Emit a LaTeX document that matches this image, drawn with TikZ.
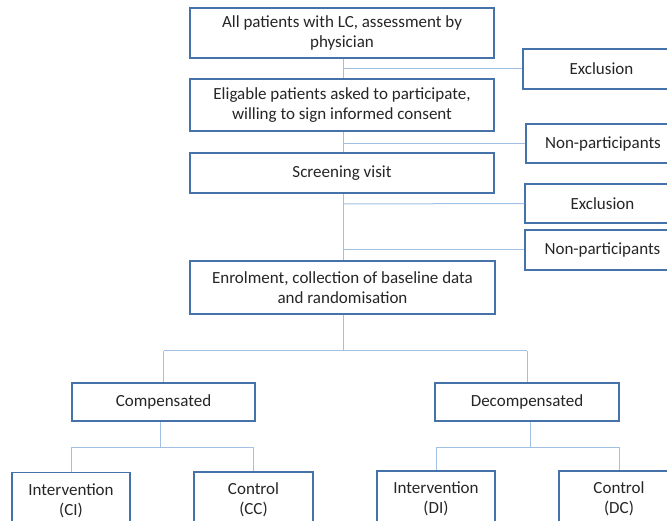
\documentclass[tikz,border=0pt]{standalone}
\usepackage{fontspec}
\setmainfont{Carlito}
\definecolor{boxc}{RGB}{70,114,170}
\definecolor{linec}{RGB}{160,192,228}
\begin{document}
\begin{tikzpicture}[x=1pt,y=-1pt,
  box/.style={draw=boxc,line width=1.1pt,fill=white,inner sep=0pt,align=center,font=\fontsize{17}{20}\selectfont,text=black!85},
  conn/.style={draw=linec,line width=1pt}]
\useasboundingbox (0,0) rectangle (667,521);
\clip (0,0) rectangle (667,521);
% main column
\node[box,minimum width=304pt,minimum height=50pt] (b1) at (342,33) {All patients with LC, assessment by\\physician};
\node[box,minimum width=304pt,minimum height=52pt] (b2) at (342,105) {Eligable patients asked to participate,\\willing to sign informed consent};
\node[box,minimum width=304pt,minimum height=40pt] (b3) at (342,173) {Screening visit};
\node[box,minimum width=305pt,minimum height=53pt] (b4) at (342.5,287.5) {Enrolment, collection of baseline data\\and randomisation};
% side boxes
\node[box,minimum width=157pt,minimum height=40pt] (ex1) at (601.5,69) {Exclusion};
\node[box,minimum width=154pt,minimum height=39pt] (np1) at (603,143.5) {Non-participants};
\node[box,minimum width=155pt,minimum height=39pt] (ex2) at (602.5,203.5) {Exclusion};
\node[box,minimum width=155pt,minimum height=40pt] (np2) at (602.5,250) {Non-participants};
% groups
\node[box,minimum width=183pt,minimum height=38pt] (comp) at (163.5,402) {Compensated};
\node[box,minimum width=184pt,minimum height=38pt] (decomp) at (527,402) {Decompensated};
\node[box,minimum width=118pt,minimum height=56pt] (ci) at (71,500.5) {Intervention\\(CI)};
\node[box,minimum width=119pt,minimum height=56pt] (cc) at (253.5,500) {Control\\(CC)};
\node[box,minimum width=118pt,minimum height=56pt] (di) at (436,499) {Intervention\\(DI)};
\node[box,minimum width=120pt,minimum height=56pt] (dc) at (619,499) {Control\\(DC)};
% connectors
\coordinate (s1) at (343,69);
\coordinate (s2) at (343,143.5);
\coordinate (s3) at (343,204);
\coordinate (s4) at (343,250);
\coordinate (t1) at (343,351);
\coordinate (t2) at (160,447);
\coordinate (t3) at (530,447);
\draw[conn] (b1.south -| s1) -- (b2.north -| s1);
\draw[conn] (s1) -- (ex1.west);
\draw[conn] (b2.south -| s2) -- (b3.north -| s2);
\draw[conn] (s2) -- (np1.west);
\draw[conn] (b3.south -| s3) -- (b4.north -| s3);
\draw[conn] (s3) -- (ex2.west);
\draw[conn] (s4) -- (np2.west);
\draw[conn] (b4.south -| t1) -- (t1);
\draw[conn] (t1 -| comp.north) -- (t1 -| decomp.north);
\draw[conn] (t1 -| comp.north) -- (comp.north);
\draw[conn] (t1 -| decomp.north) -- (decomp.north);
\draw[conn] (comp.south -| t2) -- (t2);
\draw[conn] (t2 -| ci.north) -- (t2 -| cc.north);
\draw[conn] (t2 -| ci.north) -- (ci.north);
\draw[conn] (t2 -| cc.north) -- (cc.north);
\draw[conn] (decomp.south -| t3) -- (t3);
\draw[conn] (t3 -| di.north) -- (t3 -| dc.north);
\draw[conn] (t3 -| di.north) -- (di.north);
\draw[conn] (t3 -| dc.north) -- (dc.north);
\end{tikzpicture}
\end{document}
